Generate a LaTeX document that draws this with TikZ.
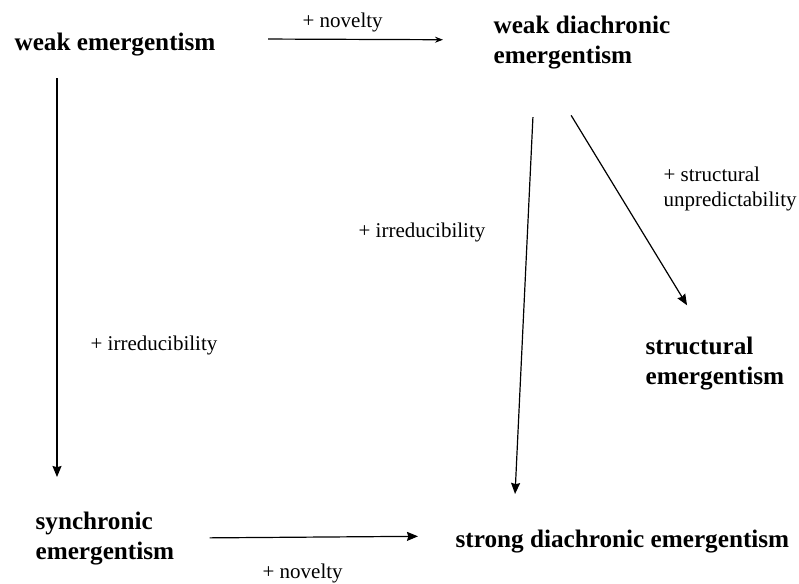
\documentclass[tikz,border=0pt]{standalone}
\usepackage{fontspec}
\setmainfont{Liberation Serif}
\usetikzlibrary{arrows.meta}

\tikzset{
  term/.style={font=\fontsize{12.6}{15}\selectfont\bfseries,inner sep=0pt,align=left},
  gain/.style={font=\fontsize{10.5}{12.5}\selectfont,inner sep=0pt,align=left},
}

\begin{document}
\begin{tikzpicture}[x=0.5pt,y=-0.5pt,>={Stealth[length=5.5pt,width=4.5pt,inset=0.6pt]},line width=0.6pt]
    \useasboundingbox (0,0) rectangle (799,584);
    % emergence notions
    \node[term,anchor=base west] (weak) at (14,50) {weak emergentism};
    \node[term,anchor=north west] (wdia) at (493,15) {weak diachronic\\emergentism};
    \node[term,anchor=north west] (struct) at (645,336) {structural\\emergentism};
    \node[term,anchor=north west] (sync) at (35,511) {synchronic\\emergentism};
    \node[term,anchor=base west] (sdia) at (455,547) {strong diachronic emergentism};
    % added conditions
    \node[gain,anchor=base west] (nov1) at (302,27) {+ novelty};
    \node[gain,anchor=base west] (irr1) at (358,237) {+ irreducibility};
    \node[gain,anchor=north west] (unpr) at (663,166) {+ structural\\unpredictability};
    \node[gain,anchor=base west] (irr2) at (90,350) {+ irreducibility};
    \node[gain,anchor=base west] (nov2) at (262,578) {+ novelty};
    % arrows
    \draw[-{Stealth[length=4pt,width=3pt]},shorten <=26pt,shorten >=25pt] ([yshift=2.6pt]weak.east) -- ([yshift=1.1pt]wdia.west);
    \draw[->,shorten <=11pt,shorten >=17pt] ([xshift=21.5pt]weak.south west) -- ([xshift=11pt]sync.north west);
    \draw[->,shorten <=17.5pt,shorten >=18.5pt] (sync.east) -- ([yshift=2.5pt]sdia.west);
    \draw[->,shorten <=24pt,shorten >=17.5pt] ([xshift=21.1pt]wdia.south west) -- ([xshift=29.2pt]sdia.north west);
    \draw[->,shorten <=27pt,shorten >=18pt] ([xshift=25pt]wdia.south west) -- ([xshift=30.4pt]struct.north west);
\end{tikzpicture}
\end{document}
